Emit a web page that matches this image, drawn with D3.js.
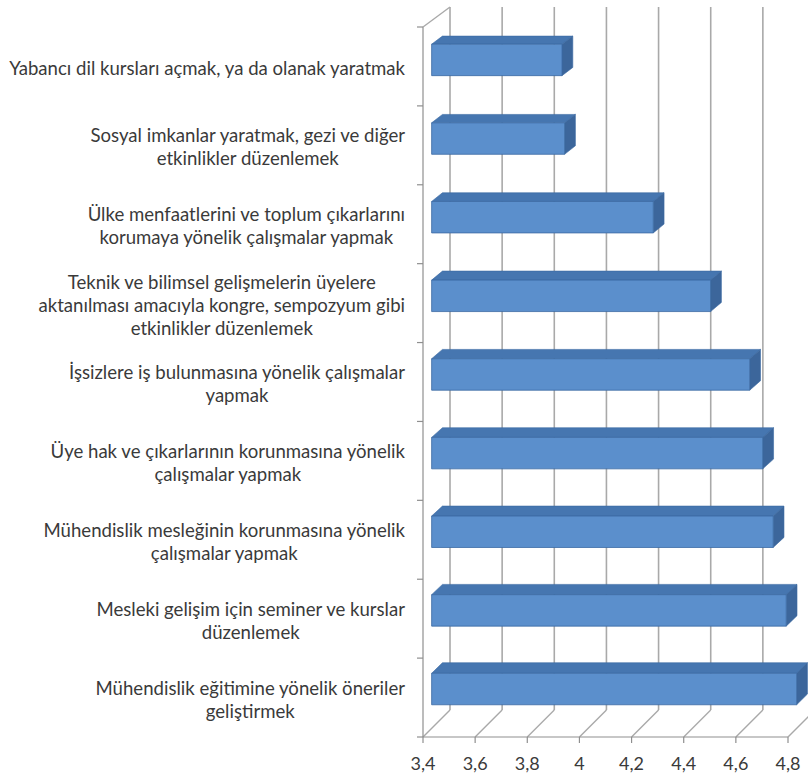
<!DOCTYPE html>
<html>
<head>
<meta charset="utf-8">
<script src="https://cdn.jsdelivr.net/npm/d3@7"></script>
<style>
  html, body { margin: 0; padding: 0; background: #ffffff; }
  svg { display: block; }
</style>
</head>
<body>
<svg id="chart" width="808" height="777"></svg>
<script>
// ---- data ----
const categories = [
  "Yabancı dil kursları açmak, ya da olanak yaratmak",
  "Sosyal imkanlar yaratmak, gezi ve diğer\netkinlikler düzenlemek",
  "Ülke menfaatlerini ve toplum çıkarlarını\nkorumaya yönelik çalışmalar yapmak",
  "Teknik ve bilimsel gelişmelerin üyelere\naktanılması amacıyla kongre, sempozyum gibi\netkinlikler düzenlemek",
  "İşsizlere iş bulunmasına yönelik çalışmalar\nyapmak",
  "Üye hak ve çıkarlarının korunmasına yönelik\nçalışmalar yapmak",
  "Mühendislik mesleğinin korunmasına yönelik\nçalışmalar yapmak",
  "Mesleki gelişim için seminer ve kurslar\ndüzenlemek",
  "Mühendislik eğitimine yönelik öneriler\ngeliştirmek"
];
const values = [3.90, 3.91, 4.25, 4.47, 4.62, 4.67, 4.71, 4.76, 4.80];
const tickValues = [3.4, 3.6, 3.8, 4.0, 4.2, 4.4, 4.6, 4.8];
const tickLabels = ["3,4", "3,6", "3,8", "4", "4,2", "4,4", "4,6", "4,8"];

// ---- scales (front plane and back plane of the 3D box) ----
const svg = d3.select("#chart");
const domain = [3.4, 4.8];
const xFront = d3.scaleLinear().domain(domain).range([423, 788]);
const xBack  = d3.scaleLinear().domain(domain).range([450, 815]);
const yFront = d3.scaleBand().domain(d3.range(categories.length)).range([27, 737]).paddingInner(0.6).paddingOuter(0.3);
const yBack  = d3.scaleBand().domain(d3.range(categories.length)).range([7, 710]).paddingInner(0.6).paddingOuter(0.3);
const yFrontStep = d3.scaleLinear().domain([0, categories.length]).range([27, 737]);
const yBackStep  = d3.scaleLinear().domain([0, categories.length]).range([7, 710]);

const lerp = (a, b, t) => a + (b - a) * t;
const px = (v, t) => lerp(xFront(v), xBack(v), t);
const barTop = (i, t) => lerp(yFront(i), yBack(i), t);
const barBot = (i, t) => lerp(yFront(i) + yFront.bandwidth(), yBack(i) + yBack.bandwidth(), t);

const gridColor = "#a9a9a9";
const axisColor = "#8f8f8f";

// ---- walls & grid ----
const g = svg.append("g");
g.selectAll("line.grid").data(tickValues).join("line")
  .attr("class", "grid")
  .attr("x1", d => xBack(d)).attr("x2", d => xBack(d))
  .attr("y1", yBackStep(0)).attr("y2", yBackStep(categories.length))
  .attr("stroke", gridColor).attr("stroke-width", 1.6);
g.selectAll("line.floor").data(tickValues).join("line")
  .attr("class", "floor")
  .attr("x1", d => xBack(d)).attr("y1", yBackStep(categories.length))
  .attr("x2", d => xFront(d)).attr("y2", yFrontStep(categories.length))
  .attr("stroke", gridColor).attr("stroke-width", 1.4);
g.append("line")
  .attr("x1", xFront(domain[0])).attr("x2", xFront(domain[1]))
  .attr("y1", yFrontStep(categories.length)).attr("y2", yFrontStep(categories.length))
  .attr("stroke", axisColor).attr("stroke-width", 1.2);
g.selectAll("line.xtick").data(tickValues).join("line")
  .attr("class", "xtick")
  .attr("x1", d => xFront(d)).attr("x2", d => xFront(d))
  .attr("y1", yFrontStep(categories.length)).attr("y2", yFrontStep(categories.length) + 6)
  .attr("stroke", axisColor).attr("stroke-width", 1.2);
g.append("line")
  .attr("x1", xFront(domain[0])).attr("x2", xFront(domain[0]))
  .attr("y1", yFrontStep(0)).attr("y2", yFrontStep(categories.length))
  .attr("stroke", axisColor).attr("stroke-width", 1.2);
g.append("line")
  .attr("x1", xFront(domain[0])).attr("y1", yFrontStep(0))
  .attr("x2", xBack(domain[0])).attr("y2", yBackStep(0))
  .attr("stroke", gridColor).attr("stroke-width", 1.4);
g.selectAll("line.ytick").data(d3.range(categories.length + 1)).join("line")
  .attr("class", "ytick")
  .attr("x1", xFront(domain[0]) - 6).attr("x2", xFront(domain[0]))
  .attr("y1", d => yFrontStep(d)).attr("y2", d => yFrontStep(d))
  .attr("stroke", axisColor).attr("stroke-width", 1.2);

// ---- 3D bars ----
const tF = 0.32, tB = 0.72;
const frontCol = "#5b8fcc", topCol = "#4676b0", sideCol = "#3c669b", edgeCol = "#3b6aa3";
const bars = svg.append("g").selectAll("g.bar").data(values).join("g").attr("class", "bar");
const poly = pts => "M" + pts.map(p => p.join(",")).join("L") + "Z";
bars.append("path")
  .attr("d", (v, i) => poly([
    [px(domain[0], tF), barTop(i, tF)], [px(v, tF), barTop(i, tF)],
    [px(v, tB), barTop(i, tB)], [px(domain[0], tB), barTop(i, tB)]
  ]))
  .attr("fill", topCol).attr("stroke", edgeCol).attr("stroke-width", 0.6).attr("stroke-linejoin", "round");
bars.append("path")
  .attr("d", (v, i) => poly([
    [px(v, tF), barTop(i, tF)], [px(v, tB), barTop(i, tB)],
    [px(v, tB), barBot(i, tB)], [px(v, tF), barBot(i, tF)]
  ]))
  .attr("fill", sideCol).attr("stroke", edgeCol).attr("stroke-width", 0.6).attr("stroke-linejoin", "round");
bars.append("path")
  .attr("d", (v, i) => poly([
    [px(domain[0], tF), barTop(i, tF)], [px(v, tF), barTop(i, tF)],
    [px(v, tF), barBot(i, tF)], [px(domain[0], tF), barBot(i, tF)]
  ]))
  .attr("fill", frontCol).attr("stroke", edgeCol).attr("stroke-width", 0.8);

// ---- text ----
const fontFamily = "Lato, 'Open Sans', sans-serif";
const probe = svg.append("text").attr("font-family", fontFamily).attr("font-size", 100).text(categories[0]);
const probeW = probe.node().getComputedTextLength();
probe.remove();
const fs = Math.min(19, 100 * 396 / probeW);
const lineH = 23;
const labelRight = 405;

const labels = svg.append("g").selectAll("g.lab").data(categories).join("g").attr("class", "lab");
labels.each(function (c, i) {
  const lines = c.split("\n");
  const gg = d3.select(this);
  const t = gg.append("text").attr("font-family", fontFamily).attr("font-size", fs).attr("fill", "#3a3a3a")
    .attr("text-anchor", "middle");
  let maxW = 0;
  lines.forEach(l => {
    const m = svg.append("text").attr("font-family", fontFamily).attr("font-size", fs).text(l);
    maxW = Math.max(maxW, m.node().getComputedTextLength());
    m.remove();
  });
  const cx = labelRight - maxW / 2;
  const cy = yFront(i) + yFront.bandwidth() / 2 + 2;
  const y0 = cy - (lines.length - 1) * lineH / 2;
  lines.forEach((l, k) => {
    t.append("tspan").attr("x", cx).attr("y", y0 + k * lineH).attr("dy", "0.35em").text(l);
  });
});

svg.append("g").selectAll("text.xl").data(tickValues).join("text")
  .attr("class", "xl")
  .attr("x", d => xFront(d)).attr("y", 764).attr("dy", "0.35em")
  .attr("text-anchor", "middle")
  .attr("font-family", fontFamily).attr("font-size", 18).attr("fill", "#3a3a3a")
  .text((d, i) => tickLabels[i]);
</script>
</body>
</html>
